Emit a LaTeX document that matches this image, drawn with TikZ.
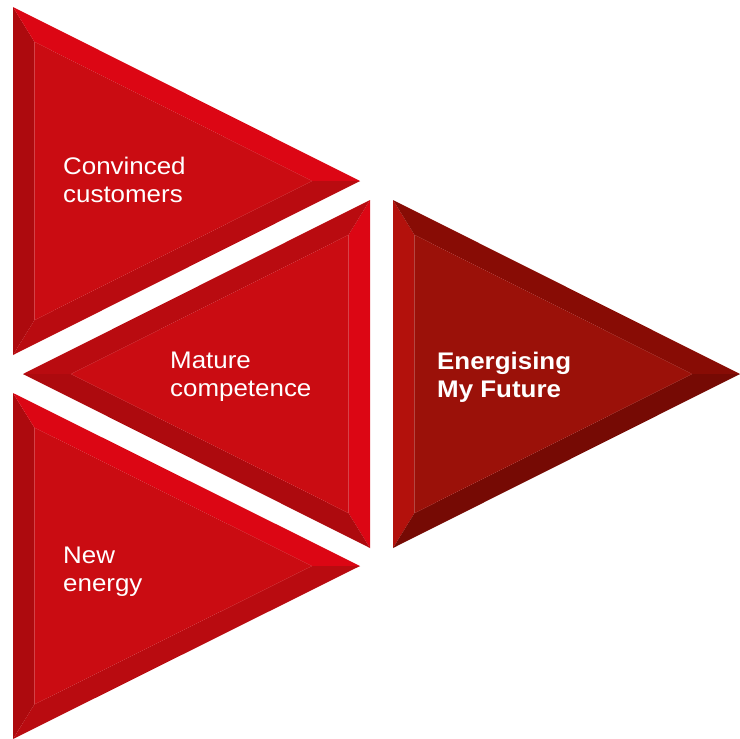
\documentclass[tikz,border=0pt]{standalone}
\usepackage{fontspec}
\setmainfont{Liberation Sans}[FakeStretch=1.08]
\usetikzlibrary{calc}
\definecolor{mainR}{HTML}{CA0C12}
\definecolor{brightR}{HTML}{DC0614}
\definecolor{darkR}{HTML}{AD0A0E}
\definecolor{midR}{HTML}{B90B10}
\definecolor{mainD}{HTML}{9B1109}
\definecolor{baseD}{HTML}{B3110C}
\definecolor{upD}{HTML}{880C05}
\definecolor{lowD}{HTML}{760A04}
\newcommand{\bevtri}[8]{%
  % #1 A, #2 B (base ends), #3 C tip, #4 incenter, #5 main, #6 base facet, #7 upper facet, #8 lower facet
  \coordinate (ia) at ($(#4)!0.8!(#1)$);
  \coordinate (ib) at ($(#4)!0.8!(#2)$);
  \coordinate (ic) at ($(#4)!0.8!(#3)$);
  \fill[#6] (#1) -- (#2) -- (ib) -- (ia) -- cycle;
  \fill[#7] (#1) -- (#3) -- (ic) -- (ia) -- cycle;
  \fill[#8] (#2) -- (#3) -- (ic) -- (ib) -- cycle;
  \fill[#5] (ia) -- (ib) -- (ic) -- cycle;
}
\tikzset{lbl/.style={text=white, inner sep=0pt, anchor=base west, align=left,
  font=\fontsize{24}{28}\selectfont}}
\begin{document}
\begin{tikzpicture}[x=1pt,y=-1pt]
\useasboundingbox (0,0) rectangle (740,739);
% top-left triangle
\coordinate (a1) at (13,7); \coordinate (b1) at (13,355); \coordinate (c1) at (360,181); \coordinate (i1) at (120,181);
\bevtri{a1}{b1}{c1}{i1}{mainR}{darkR}{brightR}{midR}
% middle triangle (pointing left)
\coordinate (a2) at (370,200); \coordinate (b2) at (370,548); \coordinate (c2) at (23,374); \coordinate (i2) at (263,374);
\bevtri{a2}{b2}{c2}{i2}{mainR}{brightR}{midR}{darkR}
% bottom-left triangle
\coordinate (a3) at (13,393); \coordinate (b3) at (13,739); \coordinate (c3) at (360,566); \coordinate (i3) at (120,566);
\bevtri{a3}{b3}{c3}{i3}{mainR}{darkR}{brightR}{midR}
% right triangle
\coordinate (a4) at (393,200); \coordinate (b4) at (393,548); \coordinate (c4) at (740,374); \coordinate (i4) at (500,374);
\bevtri{a4}{b4}{c4}{i4}{mainD}{baseD}{upD}{lowD}
% labels (anchor at baseline of last line)
\node[lbl] (t1) at (63,202) {Convinced\\customers};
\node[lbl] (t2) at (170,396) {Mature\\competence};
\node[lbl] (t3) at (63,591) {New\\energy};
\node[lbl, font=\fontsize{24}{28}\selectfont\bfseries] (t4) at (437,397) {Energising\\My Future};
\end{tikzpicture}
\end{document}
